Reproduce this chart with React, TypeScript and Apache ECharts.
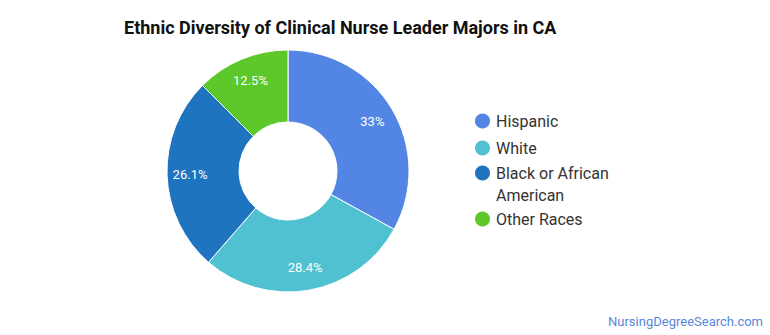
import React, { useEffect, useRef } from "react";
import * as echarts from "echarts";

const categories = ["Hispanic", "White", "Black or African American", "Other Races"];
const values = [33, 28.4, 26.1, 12.5];
const colors = ["#5386e4", "#4fc1d0", "#1f74bf", "#5cc82a"];
const legendTops = [110, 137, 140, 208];
const legendLabels = ["Hispanic", "White", " \nBlack or African\nAmerican", "Other Races"];

export default function App() {
  const ref = useRef<HTMLDivElement>(null);
  useEffect(() => {
    document.body.style.margin = "0";
    const chart = echarts.init(ref.current!, null, { renderer: "svg" });
    const data = categories.map((c, i) => ({ name: c, value: values[i], itemStyle: { color: colors[i] } }));
    const legends = categories.map((c, i) => ({
      data: [c],
      left: 473,
      top: legendTops[i],
      padding: 0,
      orient: "vertical",
      icon: "circle",
      itemWidth: 17,
      itemHeight: 17,
      itemGap: 6,
      selectedMode: false,
      formatter: () => legendLabels[i],
      textStyle: {
        fontFamily: "Roboto",
        fontSize: 16,
        color: "#333",
        lineHeight: 22,
      },
    }));
    chart.setOption({
      animation: false,
      title: {
        text: "Ethnic Diversity of Clinical Nurse Leader Majors in CA",
        left: 124,
        top: 18,
        padding: 0,
        textStyle: { fontFamily: "Roboto", fontSize: 18, fontWeight: "bold", color: "#111" },
      },
      legend: legends,
      graphic: [
        {
          type: "text",
          right: 7,
          bottom: 7,
          style: { text: "NursingDegreeSearch.com", fontFamily: "Roboto", fontSize: 13, fill: "#5a87d9" },
        },
      ],
      series: [
        {
          type: "pie",
          center: [288, 171],
          radius: [49, 121],
          startAngle: 90,
          data,
          label: { show: false },
          labelLine: { show: false },
          itemStyle: { borderColor: "#fff", borderWidth: 1 },
          emphasis: { disabled: true },
        },
        {
          type: "pie",
          center: [288, 171],
          radius: [69, 121],
          startAngle: 90,
          silent: true,
          data: categories.map((c, i) => ({ name: c, value: values[i] })),
          itemStyle: { color: "rgba(0,0,0,0)" },
          label: {
            show: true,
            position: "inside",
            formatter: (p: any) => p.value + "%",
            color: "#fff",
            fontFamily: "Roboto",
            fontSize: 13,
          },
          labelLine: { show: false },
          emphasis: { disabled: true },
        },
      ],
    });
    return () => chart.dispose();
  }, []);
  return <div ref={ref} style={{ width: 770, height: 335 }} />;
}
